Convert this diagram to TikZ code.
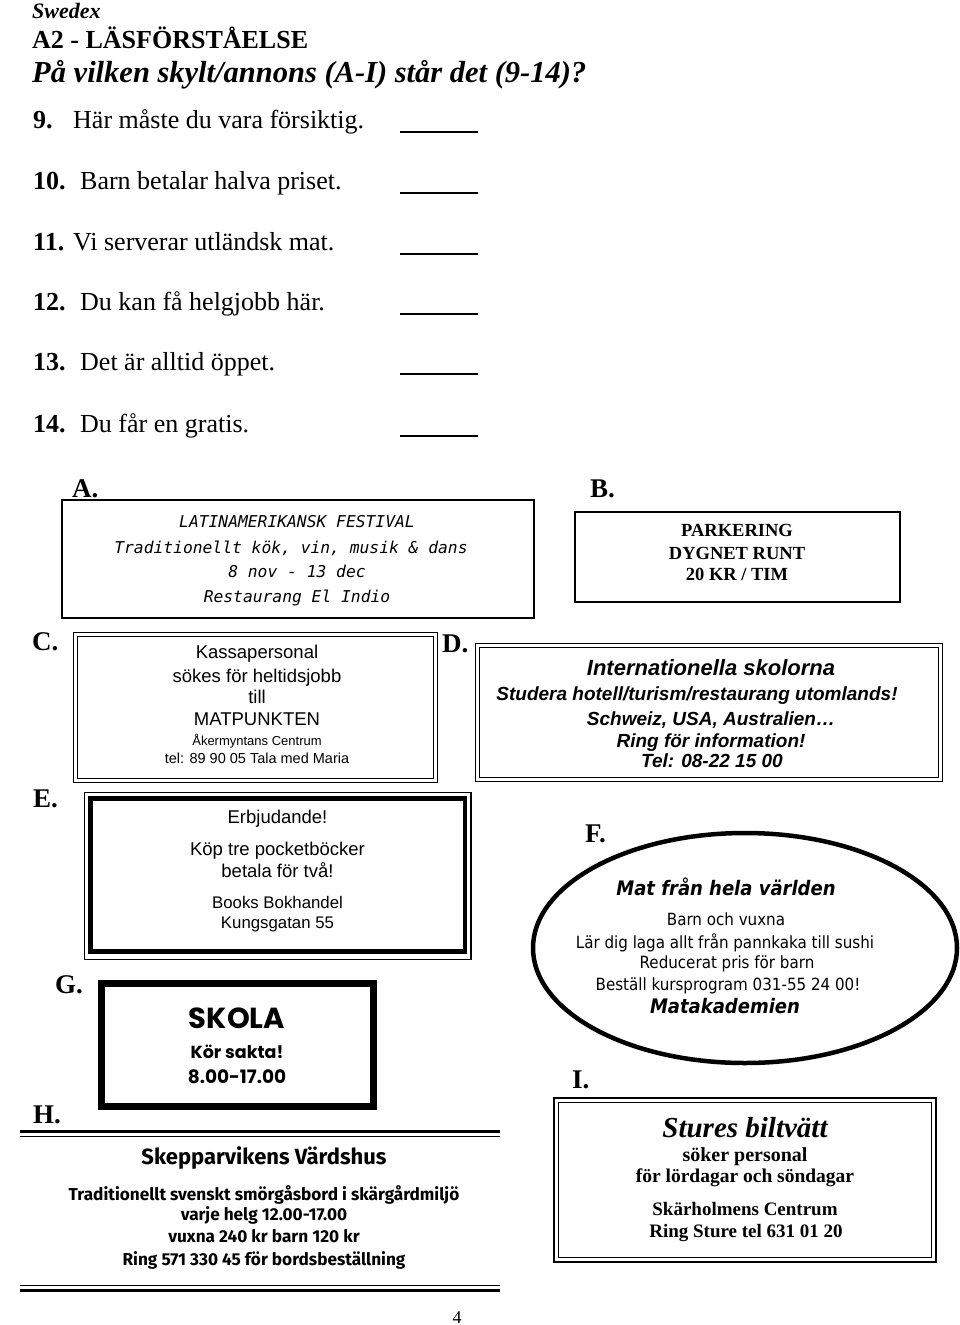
\documentclass[tikz,border=0pt]{standalone}
\usepackage{fontspec}
\setmainfont{Liberation Serif}
\newfontfamily\arialfont{Liberation Sans}
\newfontfamily\gothfont{DejaVu Sans Mono}
\newfontfamily\tahomafont{DejaVu Sans Condensed}
\newfontfamily\comicfont{Poppins}
\newfontfamily\gillfont{Fira Sans}
\newcommand\fsz[1]{\fontsize{#1}{#1}\selectfont}
\begin{document}
\begin{tikzpicture}[x=1pt,y=-1pt,
  txt/.style={anchor=base,inner sep=0pt},
  lft/.style={anchor=base west,inner sep=0pt},
  lbl/.style={anchor=base west,inner sep=0pt,font=\fsz{27}\bfseries},
  blank/.style={line width=1.2pt},
  thinframe/.style={line width=1.3pt}]
\useasboundingbox[fill=white] (0,0) rectangle (960,1325);
% header
\node[lft,font=\fsz{22}\bfseries\itshape] (swedex) at (32,18) {Swedex};
\node[lft,font=\fsz{26}\bfseries] (level) at (32,48) {A2 - LÄSFÖRSTÅELSE};
\node[lft,font=\fsz{30.5}\bfseries\itshape] (task) at (32,82) {På vilken skylt/annons (A-I) står det (9-14)?};
% questions
\node[lft,font=\fsz{26}\bfseries] (n9) at (33,128) {9.};
\node[lft,font=\fsz{26}] (q9) at (73,128) {Här måste du vara försiktig.};
\node[lft,font=\fsz{26}\bfseries] (n10) at (33,189) {10.};
\node[lft,font=\fsz{26}] (q10) at (80,189) {Barn betalar halva priset.};
\node[lft,font=\fsz{26}\bfseries] (n11) at (33,250) {11.};
\node[lft,font=\fsz{26}] (q11) at (73,250) {Vi serverar utländsk mat.};
\node[lft,font=\fsz{26}\bfseries] (n12) at (33,310) {12.};
\node[lft,font=\fsz{26}] (q12) at (80,310) {Du kan få helgjobb här.};
\node[lft,font=\fsz{26}\bfseries] (n13) at (33,370) {13.};
\node[lft,font=\fsz{26}] (q13) at (80,370) {Det är alltid öppet.};
\node[lft,font=\fsz{26}\bfseries] (n14) at (33,432) {14.};
\node[lft,font=\fsz{26}] (q14) at (80,432) {Du får en gratis.};
\draw[blank] (400,132) -- (478,132);
\draw[blank] (400,193) -- (478,193);
\draw[blank] (400,254) -- (478,254);
\draw[blank] (400,314) -- (478,314);
\draw[blank] (400,374) -- (478,374);
\draw[blank] (400,436) -- (478,436);
% A
\node[lbl] (labA) at (72,497) {A.};
\draw[line width=2pt] (62,500) rectangle (534,618);
\node[txt,font=\fsz{16.3}\gothfont\itshape] (a1) at (297,527) {LATINAMERIKANSK FESTIVAL};
\node[txt,font=\fsz{16.3}\gothfont\itshape] (a2) at (291,553) {Traditionellt kök, vin, musik \& dans};
\node[txt,font=\fsz{16.3}\gothfont\itshape] (a3) at (297,577) {8 nov - 13 dec};
\node[txt,font=\fsz{16.3}\gothfont\itshape] (a4) at (297,602) {Restaurang El Indio};
% B
\node[lbl] (labB) at (590,497) {B.};
\draw[line width=2.5pt] (575,512) rectangle (900,602);
\node[txt,font=\fsz{18.5}\bfseries] (b1) at (737,536) {PARKERING};
\node[txt,font=\fsz{18.5}\bfseries] (b2) at (737,559) {DYGNET RUNT};
\node[txt,font=\fsz{18.5}\bfseries] (b3) at (737,580) {20 KR / TIM};
% C
\node[lbl] (labC) at (32,650) {C.};
\draw[thinframe] (73.5,632.5) rectangle (437.5,782.5);
\draw[thinframe] (77.5,636.5) rectangle (433.5,778.5);
\node[txt,font=\fsz{18.5}\arialfont] (c1) at (257,658) {Kassapersonal};
\node[txt,font=\fsz{18.5}\arialfont] (c2) at (257,682) {sökes för heltidsjobb};
\node[txt,font=\fsz{18.5}\arialfont] (c3) at (257,703) {till};
\node[txt,font=\fsz{18.5}\arialfont] (c4) at (257,725) {MATPUNKTEN};
\node[txt,font=\fsz{13}\arialfont] (c5) at (257,745) {Åkermyntans Centrum};
\node[txt,font=\fsz{14.5}\arialfont] (c6) at (257,763) {tel: 89 90 05 Tala med Maria};
% D
\node[lbl] (labD) at (442,652) {D.};
\draw[thinframe] (475.5,643.5) rectangle (942.5,781.5);
\draw[thinframe] (479.5,647.5) rectangle (938.5,777.5);
\node[txt,font=\fsz{22}\arialfont\bfseries\itshape] (d1) at (711,675) {Internationella skolorna};
\node[txt,font=\fsz{19}\arialfont\bfseries\itshape] (d2) at (697,700) {Studera hotell/turism/restaurang utomlands!};
\node[txt,font=\fsz{19}\arialfont\bfseries\itshape] (d3) at (711,725) {Schweiz, USA, Australien…};
\node[txt,font=\fsz{19}\arialfont\bfseries\itshape] (d4) at (711,747) {Ring för information!};
\node[txt,font=\fsz{19}\arialfont\bfseries\itshape] (d5) at (712,767) {Tel: 08-22 15 00};
% E
\node[lbl] (labE) at (33,807) {E.};
\draw[line width=1.6pt] (84.3,792.5) rectangle (470.8,959.5);
\draw[line width=4.5pt] (90.5,798.7) rectangle (465,951.7);
\node[txt,font=\fsz{18.5}\arialfont] (e1) at (277.5,823) {Erbjudande!};
\node[txt,font=\fsz{18.5}\arialfont] (e2) at (277.5,855) {Köp tre pocketböcker};
\node[txt,font=\fsz{18.5}\arialfont] (e3) at (277.5,877) {betala för två!};
\node[txt,font=\fsz{16.8}\arialfont] (e4) at (277.5,908) {Books Bokhandel};
\node[txt,font=\fsz{16.8}\arialfont] (e5) at (277.5,928) {Kungsgatan 55};
% F
\node[lbl] (labF) at (585,842) {F.};
\draw[line width=4.5pt] (745,948) ellipse [x radius=212, y radius=115];
\node[txt,font=\fsz{20}\tahomafont\bfseries\itshape] (f1) at (726,895) {Mat från hela världen};
\node[txt,font=\fsz{16.8}\tahomafont] (f2) at (726,925) {Barn och vuxna};
\node[txt,font=\fsz{16.8}\tahomafont] (f3) at (725,948) {Lär dig laga allt från pannkaka till sushi};
\node[txt,font=\fsz{16.8}\tahomafont] (f4) at (727,968) {Reducerat pris för barn};
\node[txt,font=\fsz{16.8}\tahomafont] (f5) at (728,990) {Beställ kursprogram 031-55 24 00!};
\node[txt,font=\fsz{20}\tahomafont\bfseries\itshape] (f6) at (725,1013) {Matakademien};
% G
\node[lbl] (labG) at (55,993) {G.};
\draw[line width=7pt] (101.5,983.5) rectangle (373.5,1106.5);
\node[txt,font=\fsz{29}\comicfont\bfseries] (g1) at (237,1028) {SKOLA};
\node[txt,font=\fsz{17.5}\comicfont\bfseries] (g2) at (237,1058) {Kör sakta!};
\node[txt,font=\fsz{18.5}\comicfont\bfseries] (g3) at (237,1083) {8.00-17.00};
% H
\node[lbl] (labH) at (33,1123) {H.};
\draw[line width=2.5pt] (20,1131.5) -- (500,1131.5);
\draw[line width=1.2pt] (20,1136.5) -- (500,1136.5);
\draw[line width=1.2pt] (20,1285.5) -- (500,1285.5);
\draw[line width=2.5pt] (20,1290.5) -- (500,1290.5);
\node[txt,font=\fsz{22}\gillfont\bfseries] (h1) at (264,1164) {Skepparvikens Värdshus};
\node[txt,font=\fsz{17.2}\gillfont\bfseries] (h2) at (264,1200) {Traditionellt svenskt smörgåsbord i skärgårdmiljö};
\node[txt,font=\fsz{17.2}\gillfont\bfseries] (h3) at (264,1220) {varje helg 12.00-17.00};
\node[txt,font=\fsz{17.2}\gillfont\bfseries] (h4) at (264,1242) {vuxna 240 kr barn 120 kr};
\node[txt,font=\fsz{17.2}\gillfont\bfseries] (h5) at (264,1265) {Ring 571 330 45 för bordsbeställning};
% I
\node[lbl] (labI) at (572,1088) {I.};
\draw[line width=2pt] (554,1098) rectangle (936,1262);
\draw[thinframe] (558.5,1102.5) rectangle (931.5,1257.5);
\node[txt,font=\fsz{29}\bfseries\itshape] (i1) at (745,1137) {Stures biltvätt};
\node[txt,font=\fsz{20}\bfseries] (i2) at (745,1161) {söker personal};
\node[txt,font=\fsz{19.5}\bfseries] (i3) at (745,1182) {för lördagar och söndagar};
\node[txt,font=\fsz{19}\bfseries] (i4) at (745,1215) {Skärholmens Centrum};
\node[txt,font=\fsz{19}\bfseries] (i5) at (746,1237) {Ring Sture tel 631 01 20};
% page number
\node[txt,font=\fsz{18}] (pageno) at (457,1323) {4};
\end{tikzpicture}
\end{document}
